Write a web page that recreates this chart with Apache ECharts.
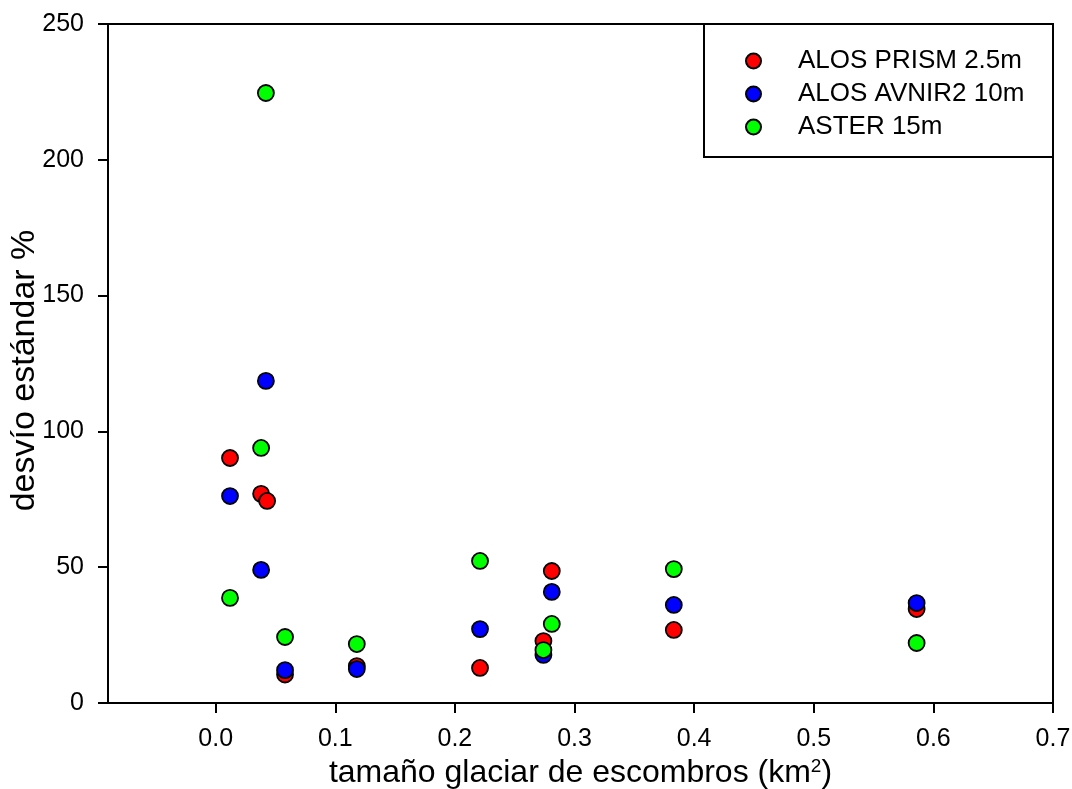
<!DOCTYPE html>
<html>
<head>
<meta charset="utf-8">
<script src="https://cdn.jsdelivr.net/npm/echarts@6/dist/echarts.min.js"></script>
<style>
html, body { margin: 0; padding: 0; background: #fff; }
#main { width: 1072px; height: 789px; }
</style>
</head>
<body>
<div id="main"></div>
<script>
// valores
var prismX = [0.012, 0.038, 0.043, 0.058, 0.118, 0.221, 0.274, 0.281, 0.383, 0.586];
var prismY = [90.2, 77.0, 74.4, 10.5, 13.6, 12.9, 22.8, 48.6, 26.9, 34.6];
var avnirX = [0.012, 0.038, 0.042, 0.058, 0.118, 0.221, 0.274, 0.281, 0.383, 0.586];
var avnirY = [76.2, 49.0, 118.6, 12.1, 12.5, 27.2, 17.7, 40.9, 36.1, 36.8];
var asterX = [0.012, 0.042, 0.038, 0.058, 0.118, 0.221, 0.274, 0.281, 0.383, 0.586];
var asterY = [38.7, 224.6, 93.9, 24.3, 21.7, 52.3, 19.5, 29.1, 49.3, 22.1];
var xTicks = [0, 0.1, 0.2, 0.3, 0.4, 0.5, 0.6, 0.7];
var serieNames = ['ALOS PRISM 2.5m', 'ALOS AVNIR2 10m', 'ASTER 15m'];
var colores = ['#ff0000', '#0000ff', '#00ff00'];

function pares(xs, ys) {
	var out = [];
	for (var i = 0; i < xs.length; i++) {
		out.push([xs[i], ys[i]]);
	}
	return out;
}

var fuente = 'Liberation Sans, Arial, sans-serif';
var chart = echarts.init(document.getElementById('main'));

var series = [];
var datos = [pares(prismX, prismY), pares(avnirX, avnirY), pares(asterX, asterY)];
for (var k = 0; k < 3; k++) {
	series.push({
		name: serieNames[k],
		type: 'scatter',
		symbol: 'circle',
		symbolSize: 16,
		z: 2 + k,
		itemStyle: { color: colores[k], borderColor: '#000', borderWidth: 1.8, opacity: 1 },
		data: datos[k]
	});
}

var option = {
	backgroundColor: '#fff',
	animation: false,
	grid: {
		left: 108, right: 19, top: 24, bottom: 86,
		outerBoundsMode: 'none',
		containLabel: false,
		show: true, borderColor: '#000', borderWidth: 2
	},
	legend: {
		orient: 'vertical',
		left: 745, top: 48,
		padding: 0,
		itemWidth: 15, itemHeight: 15, itemGap: 7,
		icon: 'circle',
		textStyle: { fontFamily: fuente, fontSize: 26, color: '#000', lineHeight: 26, padding: [0, 0, 0, 32] },
		data: serieNames
	},
	graphic: [{
		type: 'rect',
		z: 1,
		shape: { x: 704, y: 24, width: 349, height: 133 },
		style: { fill: '#fff', stroke: '#000', lineWidth: 2 }
	}],
	xAxis: {
		type: 'value',
		min: -0.09, max: 0.7,
		name: 'tamaño glaciar de escombros (km{sup|2})',
		nameLocation: 'middle',
		nameGap: 49,
		nameTextStyle: {
			fontFamily: fuente, fontSize: 32, color: '#000',
			rich: { sup: { fontFamily: fuente, fontSize: 19, color: '#000', verticalAlign: 'top', lineHeight: 19 } }
		},
		splitLine: { show: false },
		axisLine: { onZero: false, lineStyle: { color: '#000', width: 2 } },
		axisTick: { show: true, length: 10, lineStyle: { color: '#000', width: 2 }, customValues: xTicks },
		axisLabel: {
			fontFamily: fuente, fontSize: 25, color: '#000', margin: 24,
			customValues: xTicks,
			formatter: function (v) { return v.toFixed(1); }
		}
	},
	yAxis: {
		type: 'value',
		min: 0, max: 250, interval: 50,
		name: 'desvío estándar %',
		nameLocation: 'middle',
		nameGap: 66,
		nameMoveOverlap: false,
		nameTextStyle: { fontFamily: fuente, fontSize: 34, color: '#000', padding: [0, 14, 0, 0] },
		splitLine: { show: false },
		axisLine: { show: true, onZero: false, lineStyle: { color: '#000', width: 2 } },
		axisTick: { show: true, length: 10, lineStyle: { color: '#000', width: 2 } },
		axisLabel: { fontFamily: fuente, fontSize: 25, color: '#000', margin: 24 }
	},
	series: series
};
chart.setOption(option);
</script>
</body>
</html>
